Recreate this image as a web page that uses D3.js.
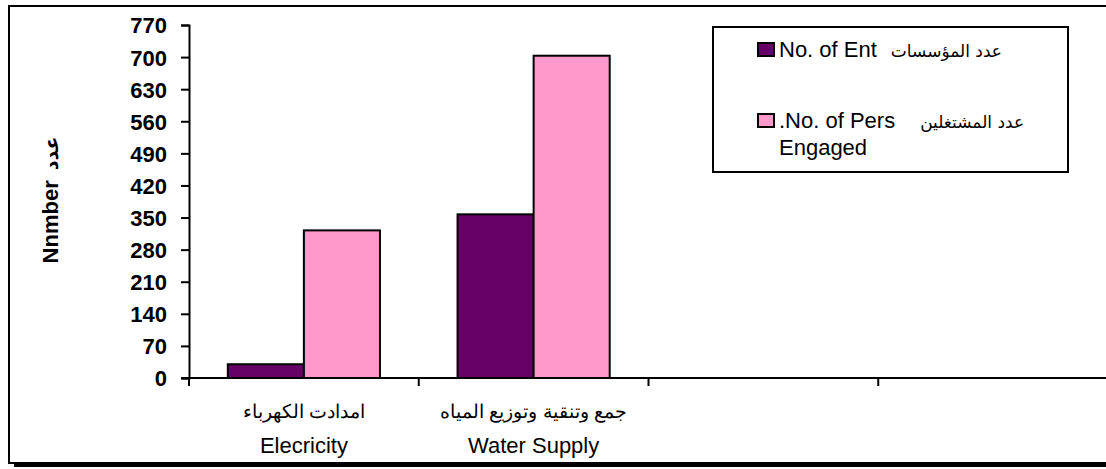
<!DOCTYPE html>
<html>
<head>
<meta charset="utf-8">
<script src="https://cdn.jsdelivr.net/npm/d3@7"></script>
<style>
  body { margin: 0; background: #fff; }
  text { font-family: "Liberation Sans", Arial, sans-serif; }
</style>
</head>
<body>
<div id="chart"></div>
<script>
// data
var categoriesEn = ["Elecricity", "Water Supply", "", ""];
var categoriesAr = ["امدادت الكهرباء", "جمع وتنقية وتوزيع المياه", "", ""];
var seriesNames = ["ent", "pers"];
var entValues = [30, 357, null, null];
var persValues = [322, 703, null, null];
var yTicks = [0, 70, 140, 210, 280, 350, 420, 490, 560, 630, 700, 770];

var colors = { ent: "#660066", pers: "#ff99cc" };
var width = 1106, height = 469;
var arFont = "DejaVu Sans, sans-serif";

var svg = d3.select("#chart").append("svg")
    .attr("width", width)
    .attr("height", height);

// outer frame (open on the right, thicker shadow at the bottom)
svg.append("path")
    .attr("d", "M1110,6 L9,6 L9,463 L1110,463")
    .attr("fill", "none")
    .attr("stroke", "#000")
    .attr("stroke-width", 2);
svg.append("line")
    .attr("x1", 14).attr("x2", 1110)
    .attr("y1", 465.5).attr("y2", 465.5)
    .attr("stroke", "#000")
    .attr("stroke-width", 3);

var y = d3.scaleLinear().domain([0, 770]).range([378, 25]);

var x = d3.scaleBand()
    .domain(d3.range(categoriesEn.length))
    .range([189, 1108])
    .padding(0);

var xSub = d3.scaleBand()
    .domain(seriesNames)
    .range([0, x.bandwidth()])
    .paddingInner(0)
    .paddingOuter(0.51);

var rows = categoriesEn.map(function(c, i) {
  return { i: i, ent: entValues[i], pers: persValues[i] };
});

// bars
var group = svg.append("g").selectAll("g")
    .data(rows)
  .enter().append("g")
    .attr("transform", function(d) { return "translate(" + x(d.i) + ",0)"; });

group.selectAll("rect")
    .data(function(d) {
      return seriesNames.map(function(s) { return { key: s, value: d[s] }; })
        .filter(function(e) { return e.value != null; });
    })
  .enter().append("rect")
    .attr("x", function(d) { return xSub(d.key); })
    .attr("width", xSub.bandwidth())
    .attr("y", function(d) { return y(d.value); })
    .attr("height", function(d) { return y(0) - y(d.value); })
    .attr("fill", function(d) { return colors[d.key]; })
    .attr("stroke", "#000")
    .attr("stroke-width", 2);

// y axis
var yAxis = svg.append("g")
    .attr("transform", "translate(189,0)")
    .call(d3.axisLeft(y).tickValues(yTicks).tickSize(8).tickPadding(14));
yAxis.select(".domain").attr("stroke-width", 2);
yAxis.selectAll(".tick line").attr("stroke-width", 2);
yAxis.selectAll(".tick text")
    .attr("font-size", 22)
    .attr("font-weight", "bold")
    .attr("fill", "#000")
    .attr("dy", "0.36em")
    .attr("font-family", "Liberation Sans, Arial, sans-serif");

// x axis: line plus tick marks at the category boundaries
svg.append("line")
    .attr("x1", 181).attr("x2", 1110)
    .attr("y1", y(0)).attr("y2", y(0))
    .attr("stroke", "#000").attr("stroke-width", 2);
svg.append("g").selectAll("line")
    .data(d3.range(categoriesEn.length))
  .enter().append("line")
    .attr("x1", function(d) { return x(d); })
    .attr("x2", function(d) { return x(d); })
    .attr("y1", y(0)).attr("y2", y(0) + 8)
    .attr("stroke", "#000").attr("stroke-width", 2);

var xLabels = svg.append("g").selectAll("g")
    .data(rows)
  .enter().append("g")
    .attr("transform", function(d) { return "translate(" + (x(d.i) + x.bandwidth() / 2) + ",0)"; });
xLabels.append("text")
    .attr("y", 418)
    .attr("text-anchor", "middle")
    .attr("font-size", 19)
    .attr("font-family", arFont)
    .text(function(d) { return categoriesAr[d.i]; });
xLabels.append("text")
    .attr("y", 453)
    .attr("text-anchor", "middle")
    .attr("font-size", 22)
    .text(function(d) { return categoriesEn[d.i]; });

// y axis title
var yTitle = svg.append("text")
    .attr("transform", "translate(58,200) rotate(-90)")
    .attr("text-anchor", "middle")
    .attr("font-size", 22)
    .attr("font-weight", "bold");
yTitle.append("tspan").text("Nnmber");
yTitle.append("tspan").attr("dx", 10).attr("font-family", arFont).attr("font-size", 19).text("عدد");

// legend
var legend = svg.append("g");
legend.append("rect")
    .attr("x", 713).attr("y", 27)
    .attr("width", 355).attr("height", 145)
    .attr("fill", "#fff")
    .attr("stroke", "#000")
    .attr("stroke-width", 2);

var legendItems = [
  { key: "ent", en: "No. of Ent", ar: "عدد المؤسسات", gap: 14, extra: null },
  { key: "pers", en: ".No. of Pers", ar: "عدد المشتغلين", gap: 25, extra: "Engaged" }
];
var legendY = d3.scalePoint().domain(seriesNames).range([49, 120]);

var li = legend.selectAll("g.item")
    .data(legendItems)
  .enter().append("g")
    .attr("class", "item")
    .attr("transform", function(d) { return "translate(758," + legendY(d.key) + ")"; });
li.append("rect")
    .attr("x", 0).attr("y", -6)
    .attr("width", 16).attr("height", 13)
    .attr("fill", function(d) { return colors[d.key]; })
    .attr("stroke", "#000")
    .attr("stroke-width", 2);
var lt = li.append("text")
    .attr("x", 21)
    .attr("y", 8)
    .attr("font-size", 22);
lt.append("tspan").text(function(d) { return d.en; });
lt.append("tspan")
    .attr("dx", function(d) { return d.gap; })
    .attr("font-family", arFont)
    .attr("font-size", 17)
    .text(function(d) { return d.ar; });
li.filter(function(d) { return d.extra; })
  .append("text")
    .attr("x", 21)
    .attr("y", 35)
    .attr("font-size", 22)
    .text(function(d) { return d.extra; });
</script>
</body>
</html>
